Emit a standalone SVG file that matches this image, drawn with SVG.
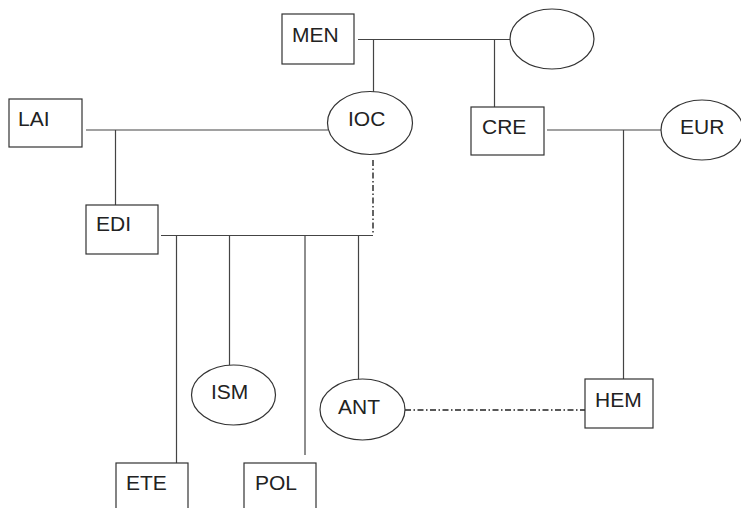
<svg xmlns="http://www.w3.org/2000/svg" width="741" height="508" viewBox="0 0 741 508">
<style>
.n{fill:#fff;stroke:#333;stroke-width:1.2}
.t{font-family:"Liberation Sans",Arial,sans-serif;font-size:21px;fill:#222}
.c{fill:none;stroke:#444;stroke-width:1.2}
.d{fill:none;stroke:#222;stroke-width:1.4;stroke-dasharray:6 2.5 1.5 2.5}
</style>
<rect width="741" height="508" fill="#fff"/>
<g id="connectors">
<path class="c" d="M358 39.5H510M373.5 39.5V92M494.5 39.5V107"/>
<path class="c" d="M86 130H328M115.5 130V205"/>
<path class="c" d="M547 130H661M623.5 130V379"/>
<path class="c" d="M161 235.5H373M176.5 235.5V463M229.5 235.5V365M305 235.5V455M358.5 235.5V379"/>
<path class="d" d="M373 160V235"/>
<path class="d" d="M405 410H585"/>
</g>
<g id="MEN"><rect class="n" x="282" y="14" width="72" height="50"/><text class="t" x="292" y="42">MEN</text></g>
<g id="TOP"><ellipse class="n" cx="552" cy="39" rx="42" ry="30"/></g>
<g id="IOC"><ellipse class="n" cx="370" cy="123" rx="42.5" ry="31.5"/><text class="t" x="348" y="126">IOC</text></g>
<g id="CRE"><rect class="n" x="471" y="107" width="73" height="48"/><text class="t" x="482" y="134">CRE</text></g>
<g id="EUR"><ellipse class="n" cx="702" cy="130" rx="41" ry="30"/><text class="t" x="680" y="134">EUR</text></g>
<g id="LAI"><rect class="n" x="9" y="99" width="73" height="48"/><text class="t" x="18" y="126">LAI</text></g>
<g id="EDI"><rect class="n" x="86" y="205" width="72" height="49"/><text class="t" x="96" y="231">EDI</text></g>
<g id="ISM"><ellipse class="n" cx="233.5" cy="395" rx="42" ry="30"/><text class="t" x="211" y="399">ISM</text></g>
<g id="ANT"><ellipse class="n" cx="362.5" cy="409.5" rx="42.5" ry="30.5"/><text class="t" x="338" y="414">ANT</text></g>
<g id="HEM"><rect class="n" x="585" y="379" width="68" height="49"/><text class="t" x="595" y="407">HEM</text></g>
<g id="ETE"><rect class="n" x="116" y="463" width="72" height="50"/><text class="t" x="126" y="490">ETE</text></g>
<g id="POL"><rect class="n" x="244" y="463" width="72" height="50"/><text class="t" x="255" y="490">POL</text></g>
</svg>
